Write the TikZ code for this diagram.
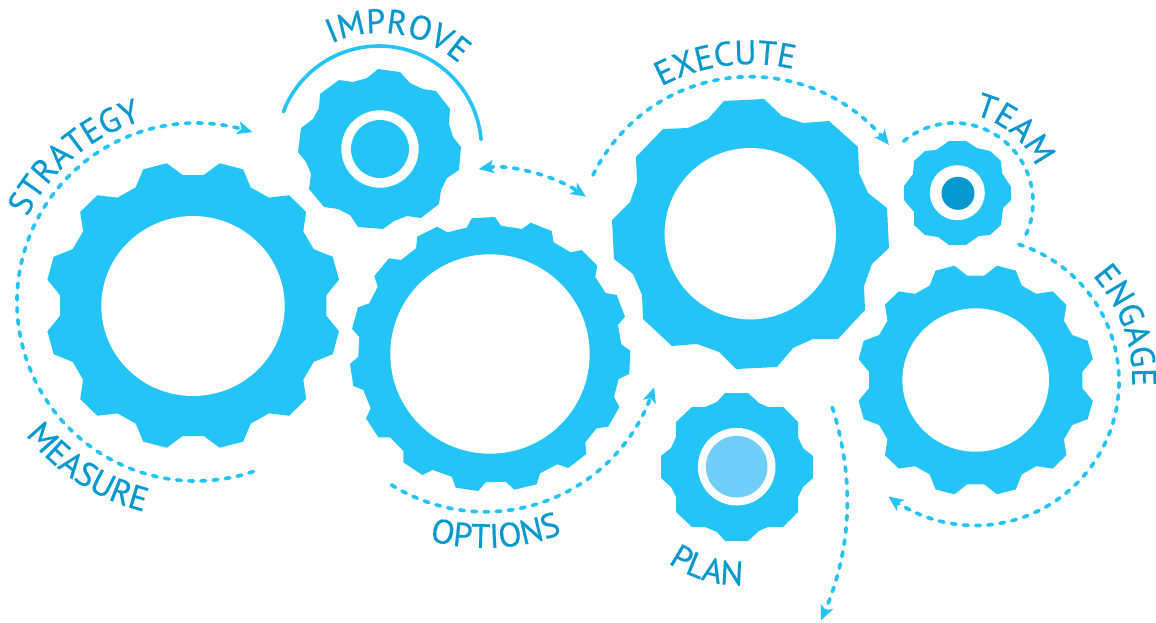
\documentclass[tikz,border=0pt]{standalone}
\usepackage{fontspec}
\setmainfont{PT Sans}
\newfontfamily\labelfam[FakeBold=0.5,LetterSpace=3]{PT Sans}
\newfontfamily\labelfamwide[FakeBold=0.5,LetterSpace=7.5]{PT Sans}
\newfontfamily\labelfamplan[FakeBold=0.5,LetterSpace=14]{PT Sans}
\usetikzlibrary{arrows.meta,decorations.text}
\definecolor{gearblue}{HTML}{25C4F7}
\definecolor{labelblue}{HTML}{0898D0}
\definecolor{hubdark}{HTML}{0898D0}
\definecolor{hublight}{HTML}{6FCDF8}
\newcommand{\labfont}{\labelfam\fontsize{34}{34}\selectfont}
\newcommand{\labfontwide}{\labelfamwide\fontsize{34}{34}\selectfont}
\newcommand{\labfontplan}{\labelfamplan\fontsize{34}{34}\selectfont}
\newcommand{\circplot}[5]{plot[smooth,samples=48,domain=#4:#5]({#1+#3*cos(\x)},{#2+#3*sin(\x)})}
% curved label: [font], text, centre x, centre y, radius, start angle, end angle
\newcommand{\curvedtext}[7][\labfont]{%
  \pgfmathsetmacro{\kk}{4/3*tan((#7-#6)/4)*#5}%
  \pgfmathsetmacro{\xa}{#3+#5*cos(#6)}\pgfmathsetmacro{\ya}{#4+#5*sin(#6)}%
  \pgfmathsetmacro{\xd}{#3+#5*cos(#7)}\pgfmathsetmacro{\yd}{#4+#5*sin(#7)}%
  \pgfmathsetmacro{\xb}{\xa-\kk*sin(#6)}\pgfmathsetmacro{\yb}{\ya+\kk*cos(#6)}%
  \pgfmathsetmacro{\xc}{\xd+\kk*sin(#7)}\pgfmathsetmacro{\yc}{\yd-\kk*cos(#7)}%
  \path[curvedlabel={#1}{#2}] (\xa,\ya) .. controls (\xb,\yb) and (\xc,\yc) .. (\xd,\yd);}
\newcommand{\geartwelve}[6]{%
  \fill[gearfill] ({#1+#5*cos(85.5)},{#2-#6*sin(85.5)})
  \foreach \v in {90,120,...,420} {
    -- ({#1+#5*cos(\v+4.5)},{#2-#6*sin(\v+4.5)})
    -- ({#1+#3*cos(\v+10.3)},{#2-#4*sin(\v+10.3)})
    -- ({#1+#3*cos(\v+19.7)},{#2-#4*sin(\v+19.7)})
    -- ({#1+#5*cos(\v+25.5)},{#2-#6*sin(\v+25.5)})
  } -- cycle;}
\tikzset{
  x=1pt,y=-1pt,
  gearfill/.style={fill=gearblue},
  holefill/.style={fill=white},
  flowline/.style={draw=gearblue,line width=3.7pt,line cap=round,dash pattern=on 4.6pt off 7.6pt},
  flowtip/.style={-{Stealth[length=15pt,width=13pt,inset=3.5pt]}},
  flowboth/.style={{Stealth[length=15pt,width=13pt,inset=3.5pt]}-{Stealth[length=15pt,width=13pt,inset=3.5pt]}},
  armline/.style={draw=gearblue,line width=3.6pt,line cap=round},
  curvedlabel/.style 2 args={decorate,decoration={text along path,text={|#1|#2},text align=center,text color=labelblue}}
}
\begin{document}
\begin{tikzpicture}
\useasboundingbox (0,0) rectangle (1156,622);
% large twelve-tooth gears
\geartwelve{193.2}{305.5}{148.2}{144.6}{133.6}{130.9}
\fill[holefill] (193,306) ellipse [x radius=91.7pt,y radius=90pt];
\geartwelve{975.7}{380}{119}{116.2}{107}{104.6}
\fill[holefill] (975.7,380) ellipse [x radius=73.3pt,y radius=71.7pt];
% improve gear
\fill[gearfill] (378,69)--(400,72)--(410,83)--(423,89)--(436,91)--(450,109)--(449,124)--(453,137)--(461,147)--(459,170)--(447,178)--(441,190)--(439,204)--(421,218)--(407,216)--(394,221)--(383,229)--(358,227)--(350,215)--(338,209)--(324,207)--(309,189)--(311,174)--(306,162)--(298,152)--(301,128)--(313,119)--(319,108)--(320,94)--(339,80)--(353,82)--(367,78)--cycle;
\fill[holefill] (380,149) circle [radius=38.7pt];
\fill[gearfill] (380,149) circle [radius=29pt];
% options gear
\fill[gearfill] (471.7,218.3)--(495,217)--(501,225.7)--(521.7,229)--(530.7,222.7)--(551.7,231)--(553.7,242.3)--(570.7,252.3)--(581.7,250)--(597.3,265.7)--(595.3,277)--(605.7,293)--(616.7,295)--(625,316.7)--(618,325)--(621.3,344.3)--(630.3,350.7)--(629.3,374)--(618.7,379)--(614,396.7)--(619.3,407)--(608.3,426.7)--(596.7,428.3)--(585.3,442.3)--(586.3,454)--(568.3,468)--(557.3,464.3)--(540,473.3)--(536.7,484.3)--(514.3,489.7)--(505.7,481.7)--(485.7,482.3)--(478.3,491)--(455.7,487.7)--(451.7,476.7)--(432.7,470)--(422.3,475)--(403.3,462.3)--(403.3,451)--(390,437.3)--(378.3,437.3)--(366,418.3)--(370.7,408.3)--(363.3,390)--(353.3,386)--(350,364)--(358.3,356.7)--(359.3,337)--(352,328.7)--(358,307.3)--(369.3,303.3)--(377.7,286.7)--(374.3,276)--(389,258.3)--(401,260)--(416,248.3)--(417.3,236.7)--(437.3,226.7)--(447.3,232.3)--(466.7,227.7)--cycle;
\fill[holefill] (490,354) circle [radius=99.7pt];
% execute gear
\fill[gearfill] (724,101)--(764,99)--(782,116)--(803,123)--(829,121)--(858,147)--(859,173)--(868,193)--(887,208)--(889,248)--(872,264)--(864,286)--(865,310)--(838,339)--(813,339)--(793,348)--(777,367)--(736,369)--(719,352)--(697,344)--(672,346)--(643,319)--(642,295)--(633,274)--(614,259)--(612,220)--(630,202)--(637,182)--(636,157)--(663,129)--(688,128)--(708,119)--cycle;
\fill[holefill] (750.3,233.7) circle [radius=85.7pt];
% team gear
\fill[gearfill] (949,141)--(966,141)--(977,148)--(990,151)--(1001,161)--(1002,173)--(1011,187)--(1011,200)--(1003,208)--(1001,225)--(990,235)--(979,236)--(966,245)--(949,245)--(938,237)--(925,235)--(914,225)--(914,212)--(904,200)--(904,186)--(913,174)--(914,161)--(925,151)--(936,150)--cycle;
\fill[holefill] (957.3,192.7) circle [radius=27.5pt];
\fill[hubdark] (958,193.3) circle [radius=16.5pt];
% plan gear
\fill[gearfill] (725,393)--(748,393)--(759,403)--(768,407)--(783,407)--(798,422)--(798,437)--(803,448)--(813,456)--(813,478)--(803,487)--(798,497)--(798,512)--(783,527)--(768,527)--(759,531)--(748,541)--(725,541)--(717,532)--(705,527)--(692,527)--(676,512)--(676,497)--(671,487)--(661,478)--(661,456)--(671,448)--(676,437)--(676,422)--(692,407)--(705,407)--(717,402)--cycle;
\fill[holefill] (736.7,466.7) circle [radius=38.8pt];
\fill[hublight] (736.7,466.7) circle [radius=30.8pt];
% connectors
\draw[flowline,flowtip] \circplot{196}{302}{179}{71.3}{288.4};
\draw[armline] \circplot{379}{148.5}{102.5}{201}{355};
\draw[flowline,flowboth] (478.7,169) .. controls (510,164) and (555,176) .. (586,196.7);
\draw[flowline,flowtip] \circplot{750.3}{251.7}{175}{206}{322.4};
\draw[flowline] \circplot{954}{202}{79}{230.4}{385.4};
\draw[flowline,flowtip] \circplot{975}{381.5}{144}{-72.3}{127};
\draw[flowline,flowtip] \circplot{485.2}{335}{176.8}{122}{17.2};
\draw[flowline,flowtip] (832.3,407.3) .. controls (852,470) and (855,540) .. (821,620.5);
% labels
\curvedtext{STRATEGY}{196}{302}{189}{190}{270}
\curvedtext{IMPROVE}{380}{149}{116}{229}{329}
\curvedtext{EXECUTE}{750.3}{251.7}{187.5}{225}{300}
\curvedtext{TEAM}{954}{202}{89}{260}{360}
\curvedtext{ENGAGE}{975.7}{380}{156.5}{-60}{20.6}
\curvedtext[\labfontwide]{MEASURE}{196}{302}{216}{160}{86}
\curvedtext[\labfontwide]{OPTIONS}{485.2}{335}{213}{125}{49}
\curvedtext[\labfontplan]{PLAN}{737}{467}{118}{166}{47}
\end{tikzpicture}
\end{document}
